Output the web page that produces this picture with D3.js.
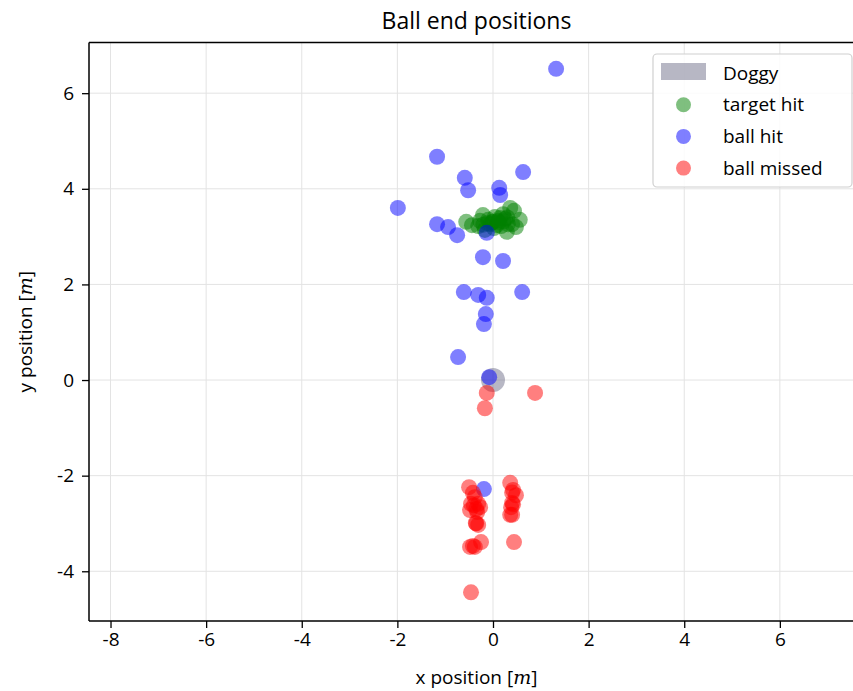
<!DOCTYPE html>
<html><head><meta charset="utf-8">
<script src="https://cdn.jsdelivr.net/npm/d3@7"></script>
<style>body{margin:0;background:#fff}svg{display:block}</style>
</head><body>
<svg id="c" width="853" height="691"></svg>
<script>
// ---- data ----
const xTicks = [-8, -6, -4, -2, 0, 2, 4, 6];
const yTicks = [-4, -2, 0, 2, 4, 6];
const seriesNames = ["Doggy", "target hit", "ball hit", "ball missed"];
const doggy = [[0, 0]];
const targetHit = [
  [-0.56,3.31],[-0.21,3.45],[0.36,3.60],[0.44,3.54],[0.56,3.35],[0.48,3.20],
  [0.29,3.10],[0.10,3.33],[-0.06,3.26],[-0.31,3.22],[-0.17,3.14],[0.17,3.22],
  [0.04,3.41],[0.25,3.37],[-0.44,3.24],[-0.10,3.35],[0.21,3.47],[0.40,3.26],
  [-0.27,3.33],[0.02,3.18],[0.31,3.26],[0.15,3.39],[-0.02,3.30],[0.08,3.24],
  [0.00,3.31],[0.12,3.30],[-0.12,3.28],[0.22,3.32],[0.30,3.40],[-0.20,3.25]
];
const ballHit = [
  [1.32,6.51],[-1.17,4.67],[-0.59,4.23],[-0.52,3.97],[0.63,4.35],[0.13,4.02],
  [0.15,3.87],[-1.99,3.60],[-1.17,3.26],[-0.94,3.20],[-0.75,3.03],[-0.13,3.08],
  [-0.21,2.57],[0.21,2.49],[-0.61,1.84],[-0.31,1.78],[-0.13,1.72],[0.61,1.84],
  [-0.15,1.38],[-0.19,1.17],[-0.73,0.48],[-0.08,0.06],[-0.19,-2.28]
];
const ballMissed = [
  [-0.13,-0.27],[-0.17,-0.59],[0.88,-0.27],
  [-0.50,-2.24],[-0.42,-2.36],[-0.38,-2.45],[-0.46,-2.59],[-0.48,-2.72],
  [-0.31,-2.59],[-0.27,-2.66],[-0.33,-2.76],[-0.36,-2.99],[-0.31,-3.03],
  [-0.48,-3.49],[-0.38,-3.49],[-0.25,-3.39],[-0.46,-4.44],
  [0.36,-2.15],[0.42,-2.30],[0.48,-2.41],[0.40,-2.57],[0.38,-2.66],
  [0.40,-2.82],[0.44,-3.39],[0.36,-2.82],
  [-0.40,-2.62],[-0.35,-2.70],[-0.35,-3.00],[-0.42,-3.47],[0.40,-2.35],[0.42,-2.60]
];

// ---- layout ----
const svg = d3.select("#c");
const L = 89, R = 864, T = 42.5, B = 621;
const x = d3.scaleLinear().domain([-8.45, 7.76]).range([L, R]);
const y = d3.scaleLinear().domain([-5.04, 7.06]).range([B, T]);
const font = "'Open Sans', Lato, 'DejaVu Sans', sans-serif";
const fs = 19;

svg.append("rect").attr("width", 853).attr("height", 691).attr("fill", "#fff");

// grid
const g = svg.append("g");
g.selectAll(".gx").data(xTicks).join("line")
  .attr("x1", d => x(d)).attr("x2", d => x(d)).attr("y1", T).attr("y2", B)
  .attr("stroke", "#e3e3e3").attr("stroke-width", 1);
g.selectAll(".gy").data(yTicks).join("line")
  .attr("y1", d => y(d)).attr("y2", d => y(d)).attr("x1", L).attr("x2", R)
  .attr("stroke", "#e3e3e3").attr("stroke-width", 1);

// points
const pts = svg.append("g");
pts.selectAll(".dog").data(doggy).join("circle")
  .attr("cx", d => x(d[0])).attr("cy", d => y(d[1])).attr("r", 12)
  .attr("fill", "#70708a").attr("fill-opacity", 0.5);
function scatter(data, color) {
  pts.append("g").selectAll("circle").data(data).join("circle")
    .attr("cx", d => x(d[0])).attr("cy", d => y(d[1])).attr("r", 8)
    .attr("fill", color).attr("fill-opacity", 0.5);
}
scatter(targetHit, "#008000");
scatter(ballHit, "#0000ff");
scatter(ballMissed, "#ff0000");

// axes
const xa = svg.append("g").attr("transform", `translate(0,${B})`)
  .call(d3.axisBottom(x).tickValues(xTicks).tickFormat(d => String(d)).tickSize(7).tickPadding(5).tickSizeOuter(0));
const ya = svg.append("g").attr("transform", `translate(${L},0)`)
  .call(d3.axisLeft(y).tickValues(yTicks).tickFormat(d => String(d)).tickSize(7).tickPadding(8).tickSizeOuter(0));
[xa, ya].forEach(a => {
  a.select(".domain").remove();
  a.selectAll("line").attr("stroke", "#000").attr("stroke-width", 1.3);
  a.selectAll("text").attr("font-family", font).attr("font-size", fs).attr("fill", "#000");
});

// spines
svg.append("line").attr("x1", L).attr("x2", L).attr("y1", T).attr("y2", B).attr("stroke", "#000").attr("stroke-width", 1.5);
svg.append("line").attr("x1", L).attr("x2", R).attr("y1", B).attr("y2", B).attr("stroke", "#000").attr("stroke-width", 1.5);
svg.append("line").attr("x1", L).attr("x2", R).attr("y1", T).attr("y2", T).attr("stroke", "#000").attr("stroke-width", 1.5);
svg.append("line").attr("x1", R).attr("x2", R).attr("y1", T).attr("y2", B).attr("stroke", "#000").attr("stroke-width", 1.5);

// title
svg.append("text").attr("x", (L + R) / 2).attr("y", 29).attr("text-anchor", "middle")
  .attr("font-family", font).attr("font-size", 23).text("Ball end positions");

// axis labels
const xl = svg.append("text").attr("x", (L + R) / 2).attr("y", 684).attr("text-anchor", "middle")
  .attr("font-family", font).attr("font-size", fs);
xl.append("tspan").text("x position [");
xl.append("tspan").attr("font-family", "'DejaVu Serif', 'Liberation Serif', serif").attr("font-style", "italic").text("m");
xl.append("tspan").text("]");
const yl = svg.append("text").attr("transform", `translate(32,${(T + B) / 2}) rotate(-90)`).attr("text-anchor", "middle")
  .attr("font-family", font).attr("font-size", fs);
yl.append("tspan").text("y position [");
yl.append("tspan").attr("font-family", "'DejaVu Serif', 'Liberation Serif', serif").attr("font-style", "italic").text("m");
yl.append("tspan").text("]");

// legend
const lg = svg.append("g");
lg.append("rect").attr("x", 653).attr("y", 54).attr("width", 199).attr("height", 133).attr("rx", 4)
  .attr("fill", "#fff").attr("fill-opacity", 0.85).attr("stroke", "#d0d0d0").attr("stroke-width", 1.2);
const legendColors = ["#70708a", "#008000", "#0000ff", "#ff0000"];
seriesNames.forEach((name, i) => {
  const cy = 73 + i * 31.7;
  if (i === 0) {
    lg.append("rect").attr("x", 661).attr("y", 63).attr("width", 45).attr("height", 17)
      .attr("fill", legendColors[i]).attr("fill-opacity", 0.5);
  } else {
    lg.append("circle").attr("cx", 683.5).attr("cy", cy).attr("r", 7.5)
      .attr("fill", legendColors[i]).attr("fill-opacity", 0.5);
  }
  lg.append("text").attr("x", 723).attr("y", cy + 6.5).attr("font-family", font).attr("font-size", fs).text(name);
});
</script>
</body></html>
